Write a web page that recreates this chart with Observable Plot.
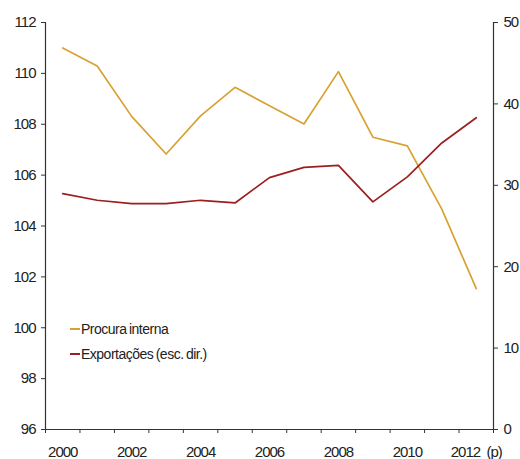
<!DOCTYPE html>
<html>
<head>
<meta charset="utf-8">
<script src="https://cdn.jsdelivr.net/npm/d3@7"></script>
<script src="https://cdn.jsdelivr.net/npm/@observablehq/plot@0.6"></script>
<style>
  body { margin: 0; background: #fff; }
  #chart { position: relative; width: 520px; height: 459px; }
  #chart svg text { letter-spacing: -1px; }
  .legend { position: absolute; left: 70px; top: 316px; font: 14px "Liberation Sans", Arial, sans-serif; color: #222; letter-spacing: -0.5px; word-spacing: -1px; }
  .legend div { display: flex; align-items: center; height: 25px; }
  .legend span.sw { display: inline-block; width: 10px; height: 2px; margin-right: 1px; }
</style>
</head>
<body>
<div id="chart"></div>
<script>
// Years (2012 is a projection)
const years = [2000, 2001, 2002, 2003, 2004, 2005, 2006, 2007, 2008, 2009, 2010, 2011, 2012];
// Domestic demand, index (left axis)
const procuraInterna = [111.0, 110.29, 108.31, 106.83, 108.33, 109.45, 108.73, 108.01, 110.07, 107.49, 107.15, 104.66, 101.54];
// Exports, % (right axis)
const exportacoes = [28.98, 28.16, 27.75, 27.75, 28.16, 27.83, 30.95, 32.2, 32.45, 27.96, 31.03, 35.2, 38.3];
const leftTicks = [96, 98, 100, 102, 104, 106, 108, 110, 112];
const rightTicks = [0, 10, 20, 30, 40, 50];
const xLabels = [2000, 2002, 2004, 2006, 2008, 2010, 2012];

const seriesNames = ["Procura interna", "Exportações (esc. dir.)"];
const colors = ["#d6a232", "#9b1f1f"];

// Map the right-axis range (0–50) onto the left-axis range (96–112)
const toLeft = d3.scaleLinear([0, 50], [96, 112]);

const procuraRows = years.map((y, i) => ({year: y, value: procuraInterna[i]}));
const exportRows = years.map((y, i) => ({year: y, value: toLeft(exportacoes[i])}));

const axisColor = "#333";
const xMin = years[0] - 0.5, xMax = years[years.length - 1] + 0.5;

const chart = Plot.plot({
  width: 520,
  height: 459,
  marginLeft: 45,
  marginRight: 27,
  marginTop: 22,
  marginBottom: 30,
  style: {fontFamily: "'Liberation Sans', Arial, sans-serif", fontSize: "15px", color: "#222", background: "#fff"},
  x: {domain: [xMin, xMax]},
  y: {domain: [96, 112]},
  marks: [
    Plot.ruleX([xMin, xMax], {stroke: axisColor, strokeWidth: 1.2}),
    Plot.ruleY([96], {stroke: axisColor, strokeWidth: 1.2}),
    Plot.axisY({ticks: leftTicks, tickSize: 4, tickPadding: 6, label: null, stroke: axisColor}),
    Plot.axisY({anchor: "right", ticks: rightTicks.map(toLeft), tickFormat: d => String(Math.round(toLeft.invert(d))), tickSize: 4, tickPadding: 6, label: null, stroke: axisColor}),
    Plot.axisX({ticks: d3.range(xMin, xMax + 0.01, 1), tickFormat: () => "", tickSize: 4, label: null, stroke: axisColor}),
    Plot.axisX({ticks: xLabels, tickSize: 0, tickPadding: 17, label: null, tickFormat: d => d === 2012 ? "2012\u00a0\u00a0(p)" : String(d)}),
    Plot.line(procuraRows, {x: "year", y: "value", stroke: colors[0], strokeWidth: 1.7}),
    Plot.line(exportRows, {x: "year", y: "value", stroke: colors[1], strokeWidth: 1.7})
  ]
});

const root = document.getElementById("chart");
root.appendChild(chart);

const legend = document.createElement("div");
legend.className = "legend";
seriesNames.forEach((name, i) => {
  const row = document.createElement("div");
  const sw = document.createElement("span");
  sw.className = "sw";
  sw.style.background = colors[i];
  row.appendChild(sw);
  row.appendChild(document.createTextNode(name));
  legend.appendChild(row);
});
root.appendChild(legend);
</script>
</body>
</html>
